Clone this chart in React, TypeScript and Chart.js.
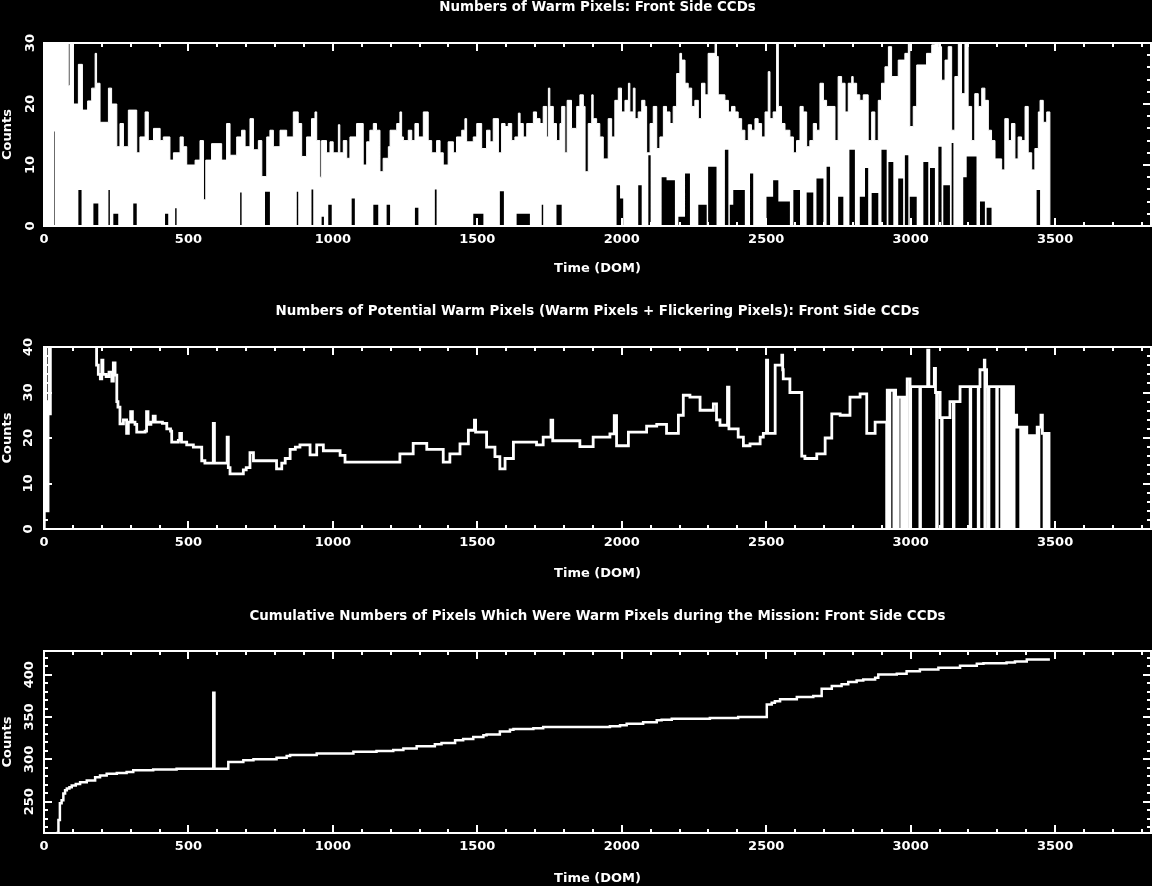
import React, { useEffect, useRef } from 'react';
import { Chart, registerables } from 'chart.js';

Chart.register(...registerables);

const FONT_FAMILY = '"DejaVu Sans", "Liberation Sans", sans-serif';
const X_MAX = 3832;
const X_TICKS = [0, 500, 1000, 1500, 2000, 2500, 3000, 3500];
const Y_TICKS_WARM = [0, 10, 20, 30];
const Y_TICKS_POT = [0, 10, 20, 30, 40];
const Y_TICKS_CUM = [250, 300, 350, 400];

const TITLE_WARM = 'Numbers of Warm Pixels: Front Side CCDs';
const TITLE_POT = 'Numbers of Potential Warm Pixels (Warm Pixels + Flickering Pixels): Front Side CCDs';
const TITLE_CUM = 'Cumulative Numbers of Pixels Which Were Warm Pixels during the Mission: Front Side CCDs';

// Panel 1: upper envelope of daily warm pixel counts [DOM, count]
const WARM_MAX: [number, number][] = [
  [0, 30], [84, 23], [90, 30], [102, 20], [119, 26.5], [133, 19], [151, 20.5], [165, 22.6], [177, 28.3], [182, 23.4],
  [194, 17], [223, 22.6], [234, 20], [252, 13], [263, 16.8], [275, 13], [292, 19], [321, 12], [332, 14.6], [350, 18.7],
  [361, 14], [379, 16], [402, 14], [413, 14.6], [436, 10.8], [448, 12], [471, 14.6], [482, 13], [494, 10], [523, 10.8],
  [540, 14], [552, 4.3], [560, 10.8], [580, 13.5], [615, 10.8], [632, 16.8], [644, 11.6], [667, 14.6], [684, 15.7], [696, 13],
  [713, 17.6], [725, 12.5], [742, 14], [754, 8.1], [771, 14.6], [782, 15.7], [794, 13], [817, 15.7], [840, 14.6], [863, 18.7],
  [880, 16.8], [892, 11.4], [909, 14.6], [926, 17.6], [938, 18.7], [944, 14], [955, 8], [961, 14], [978, 12], [990, 13.8],
  [1001, 12], [1019, 16.6], [1024, 12], [1036, 14], [1048, 11.1], [1059, 14.6], [1082, 16.8], [1105, 10], [1117, 13.8], [1128, 15.7],
  [1140, 16.8], [1151, 15.7], [1163, 8.9], [1174, 11.1], [1192, 13], [1198, 15.7], [1221, 16.8], [1232, 18.7], [1238, 14.6], [1244, 14],
  [1261, 15.7], [1273, 14], [1284, 16.8], [1296, 14.6], [1313, 18.7], [1330, 14], [1342, 12], [1359, 14], [1371, 12], [1382, 10],
  [1399, 13.8], [1417, 12], [1428, 14.6], [1446, 15.7], [1457, 17.6], [1463, 13.8], [1486, 14.6], [1498, 16.8], [1515, 12.7], [1532, 15.7],
  [1544, 13.8], [1555, 17.6], [1573, 12], [1584, 16.8], [1596, 16.3], [1607, 16.8], [1619, 14], [1630, 14.6], [1642, 18.5], [1648, 16.8],
  [1659, 14.6], [1671, 16.8], [1694, 18.7], [1705, 17.6], [1717, 16.8], [1728, 19.6], [1740, 14.6], [1746, 22.6], [1751, 19.6], [1763, 16.8],
  [1774, 14], [1786, 16.8], [1792, 19.6], [1803, 12], [1811, 20.6], [1826, 16], [1844, 19.6], [1855, 21.5], [1867, 19.6], [1873, 8.9],
  [1884, 16.8], [1896, 21.5], [1901, 17.6], [1913, 16.8], [1924, 14.6], [1936, 11], [1953, 17.6], [1965, 14.6], [1976, 20.6], [1988, 22.6],
  [1999, 18.7], [2011, 20.6], [2023, 23.4], [2028, 18.7], [2040, 22.6], [2046, 17.6], [2057, 18.7], [2069, 20.6], [2080, 19.6], [2086, 12],
  [2098, 16.8], [2109, 19.6], [2121, 12.7], [2132, 14.6], [2144, 19.6], [2155, 18.7], [2167, 16.8], [2178, 19.6], [2190, 25], [2201, 28.3],
  [2207, 27.2], [2219, 23.4], [2230, 22.6], [2242, 19.6], [2253, 20.6], [2265, 17.6], [2276, 23.4], [2288, 21.5], [2299, 28.3], [2323, 30],
  [2328, 27.8], [2334, 21.5], [2357, 20.6], [2369, 18.7], [2380, 19.6], [2392, 18.7], [2403, 17.6], [2415, 15.7], [2426, 14], [2438, 16.6],
  [2449, 15.7], [2461, 17.6], [2472, 16.8], [2484, 14.6], [2496, 18.7], [2507, 25.3], [2513, 17.6], [2524, 18.7], [2536, 30], [2542, 19.6],
  [2553, 16.8], [2565, 15.7], [2582, 14.6], [2594, 12], [2605, 14], [2617, 19.6], [2628, 18.7], [2640, 13], [2651, 14], [2663, 16.8],
  [2674, 15.7], [2686, 23.4], [2698, 20.6], [2709, 19.6], [2738, 14], [2749, 24.5], [2761, 23.4], [2773, 18.7], [2784, 23.4], [2796, 24.5],
  [2801, 23.4], [2813, 21.5], [2824, 20.6], [2836, 21.5], [2853, 14], [2865, 18.7], [2876, 14], [2888, 20.6], [2899, 23.4], [2911, 26.1],
  [2923, 29.4], [2934, 24.5], [2957, 27.2], [2980, 28.3], [2992, 30], [2997, 16.3], [3009, 19.6], [3021, 26.4], [3055, 28.3], [3073, 29.7],
  [3084, 30], [3096, 29.4], [3107, 23.9], [3119, 27.2], [3130, 29.4], [3142, 15.7], [3153, 24.5], [3165, 30], [3176, 21.7], [3188, 30],
  [3199, 19.6], [3211, 14], [3222, 21.7], [3234, 19.6], [3246, 22.6], [3257, 20.6], [3269, 15.7], [3280, 14], [3292, 11], [3315, 9.2],
  [3326, 17.6], [3338, 14], [3349, 16.8], [3361, 11], [3372, 14.6], [3384, 14], [3396, 19.6], [3407, 12], [3419, 9.2], [3430, 12.7],
  [3442, 18.7], [3448, 20.6], [3459, 17], [3471, 18.7], [3482, 0],
];

// Panel 1: lower envelope of daily warm pixel counts [DOM, count]
const WARM_MIN: [number, number][] = [
  [0, 0], [35, 15.5], [37, 0], [119, 5.9], [130, 0], [171, 3.7], [188, 0], [223, 5.9], [228, 0], [240, 2], [257, 0],
  [309, 3.7], [321, 0], [419, 2], [430, 0], [454, 2.9], [459, 0], [679, 5.5], [684, 0], [765, 5.6], [782, 0], [875, 5.6], [880, 0],
  [926, 6], [932, 0], [961, 1.5], [969, 0], [984, 3.5], [996, 0], [1065, 4.5], [1076, 0], [1140, 3.5], [1157, 0], [1186, 3.5], [1198, 0],
  [1284, 3], [1296, 0], [1353, 6], [1359, 0], [1486, 2], [1521, 0], [1578, 5.7], [1592, 0], [1636, 2], [1682, 0], [1723, 3.5], [1728, 0],
  [1774, 3.5], [1792, 0], [1982, 6.7], [1994, 4.5], [2005, 0], [2057, 6.7], [2069, 0], [2092, 11.6], [2100, 0], [2138, 8], [2155, 7.5],
  [2184, 0], [2196, 1.5], [2219, 8.6], [2236, 0], [2265, 3.5], [2294, 0], [2299, 9.7], [2328, 0], [2357, 12.5], [2369, 0], [2374, 3.5],
  [2386, 5.9], [2426, 0], [2444, 8.6], [2455, 0], [2501, 4.8], [2524, 7.5], [2542, 4], [2582, 0], [2594, 5.9], [2617, 0], [2640, 5.5],
  [2663, 0], [2674, 7.8], [2698, 0], [2709, 9.7], [2721, 0], [2749, 4.8], [2767, 0], [2788, 12.5], [2807, 0], [2824, 4.8], [2842, 9.5],
  [2853, 0], [2865, 5.4], [2888, 0], [2899, 12.5], [2917, 0], [2923, 10.5], [2940, 0], [2957, 7.8], [2974, 0], [2980, 11.6], [2992, 0],
  [2997, 4.8], [3021, 0], [3044, 10.5], [3061, 0], [3067, 9.5], [3084, 0], [3096, 13], [3107, 0], [3113, 6.7], [3136, 0], [3142, 13.6],
  [3148, 0], [3182, 8], [3194, 11.4], [3228, 0], [3240, 4], [3257, 0], [3263, 3], [3280, 0], [3436, 5.9], [3448, 0], [3482, 0],
];

// Panel 2: potential warm pixels [DOM, count]; null = no data
const POTENTIAL: [number, number | null][] = [
  [0, 0], [1, 40], [6, 28], [10, 4], [14, 27], [18, 40], [22, 25], [25, null],
  [179, 42], [182, 36], [188, 34], [195, 33], [200, 37.1], [204, 34], [215, 33.5], [225, 34.5], [235, 32.5], [240, 36.5],
  [246, 33.8], [252, 28], [256, 26.8], [263, 23.1], [275, 24], [286, 21], [292, 23.5], [300, 25.8], [306, 23.5], [315, 23],
  [321, 21.3], [350, 21.5], [355, 25.8], [360, 23], [370, 23.5], [378, 24.8], [385, 23.5], [410, 23.2], [425, 22], [438, 21.5],
  [442, 19.1], [465, 19.5], [470, 21], [476, 19.1], [494, 18.5], [517, 18], [546, 15], [557, 14.5], [586, 23.2], [590, 14.5],
  [634, 20.2], [638, 13.5], [644, 12.1], [690, 13], [700, 13.5], [713, 16.8], [725, 15], [805, 13.2], [823, 14.5], [835, 15.5],
  [852, 17.5], [870, 18], [886, 18.5], [921, 16.3], [944, 18.5], [967, 17.2], [1025, 16.2], [1042, 14.7], [1232, 16.5], [1278, 18.8],
  [1325, 17.5], [1382, 14.7], [1405, 16.5], [1440, 18.7], [1469, 21.7], [1490, 23.9], [1494, 21.3], [1532, 18], [1561, 15.9], [1578, 13.2],
  [1596, 15.5], [1625, 19.1], [1705, 18.5], [1728, 20.2], [1755, 23.9], [1761, 19.4], [1855, 18.1], [1901, 20.2], [1959, 20.9], [1974, 24.9],
  [1982, 18.3], [2023, 21.3], [2086, 22.6], [2121, 23], [2155, 21], [2196, 25], [2213, 29.4], [2236, 29], [2271, 26.1], [2317, 27.5],
  [2328, 24], [2340, 22.8], [2366, 31.2], [2371, 22], [2403, 20.2], [2421, 18.3], [2444, 18.7], [2479, 20.2], [2490, 21], [2501, 37.1],
  [2505, 21], [2531, 36], [2554, 38.2], [2557, 35], [2559, 33], [2582, 30], [2623, 16], [2634, 15.5], [2675, 16.5], [2704, 20],
  [2727, 25.3], [2756, 25], [2790, 29], [2825, 29.7], [2848, 21], [2877, 23.5], [2917, 0], [2919, 30.5], [2926, 0], [2928, 30.5],
  [2942, 0], [2944, 30.5], [2948, 0], [2950, 29], [2955, 0], [2957, 29], [2969, 0], [2971, 29], [2977, 0], [2979, 29],
  [2986, 0], [2988, 33], [2998, 0], [3000, 31.3], [3032, 0], [3034, 31.3], [3059, 39.3], [3063, 31.3], [3082, 35.3], [3086, 30],
  [3090, 0], [3092, 30], [3102, 24.5], [3107, 0], [3109, 24.5], [3136, 28], [3148, 0], [3150, 28], [3171, 31.3], [3206, 0],
  [3208, 31.3], [3234, 0], [3236, 31.3], [3240, 35], [3255, 37.1], [3257, 0], [3259, 35], [3263, 31.3], [3269, 0], [3271, 31.3],
  [3298, 0], [3300, 31.3], [3315, 0], [3317, 31.3], [3321, 0], [3323, 31.3], [3327, 0], [3329, 31.3], [3338, 0], [3340, 31.3],
  [3344, 0], [3346, 31.3], [3350, 0], [3352, 31.3], [3356, 0], [3358, 25], [3367, 22.4], [3381, 0], [3383, 22.4], [3390, 0],
  [3392, 22.4], [3396, 0], [3398, 22.4], [3402, 0], [3404, 20.5], [3408, 0], [3410, 20.5], [3413, 0], [3415, 20.5], [3419, 0],
  [3421, 20.5], [3425, 0], [3427, 20.5], [3430, 0], [3432, 20.5], [3436, 0], [3438, 22.4], [3442, 0], [3444, 22.4], [3451, 25],
  [3456, 21], [3462, 0], [3464, 21], [3473, 0], [3475, 21], [3479, 0],
];

// Panel 3: cumulative number of warm pixels [DOM, count]
const CUMULATIVE: [number, number][] = [
  [44, 200], [46, 213], [50, 228.5], [55, 248], [61, 251.6], [67, 259.6], [73, 263.5], [79, 265.5], [88, 267], [96, 269],
  [110, 271], [125, 273], [148, 275], [177, 279], [194, 281], [217, 283], [252, 284], [286, 285], [309, 287], [378, 288],
  [459, 289], [586, 378.7], [590, 289], [638, 297], [690, 299], [725, 300], [805, 302], [840, 304], [852, 305], [944, 307],
  [1071, 309], [1151, 310], [1209, 311], [1244, 312.7], [1290, 315.5], [1353, 317.7], [1376, 319.4], [1423, 322.5], [1451, 324], [1486, 326.4],
  [1521, 328.4], [1532, 329.5], [1578, 333], [1613, 335], [1625, 335.8], [1694, 336.6], [1728, 338.2], [1959, 339], [1994, 340.2], [2017, 342.2],
  [2074, 343.8], [2121, 346.1], [2138, 346.9], [2173, 348.1], [2305, 348.9], [2403, 350], [2502, 364.9], [2519, 367], [2530, 368.5], [2548, 370.9],
  [2606, 373.6], [2663, 374.8], [2692, 383.4], [2727, 386.6], [2761, 388.6], [2784, 391.3], [2813, 393.2], [2836, 394.4], [2877, 396.3], [2888, 400.3],
  [2952, 401], [2986, 404.2], [3032, 406.1], [3096, 408.1], [3171, 410.5], [3229, 412.8], [3252, 413.6], [3332, 414.4], [3361, 415.6], [3402, 418],
  [3482, 418],
];

const toXY = (arr: [number, number | null][]) => arr.map(([x, y]) => ({ x, y }));

const framePlugin = {
  id: 'frame',
  afterDatasetsDraw(chart: any, _args: any, o: any) {
    const { ctx, chartArea: a, scales } = chart;
    const xs = scales.x;
    const ys = scales.y;
    ctx.save();
    ctx.strokeStyle = '#ffffff';
    ctx.lineWidth = 2;
    ctx.beginPath();
    for (let v = 0; v <= xs.max; v += o.xMinor) {
      const px = Math.round(xs.getPixelForValue(v));
      const len = v % o.xMajor === 0 ? 8 : 4;
      ctx.moveTo(px, a.bottom);
      ctx.lineTo(px, a.bottom - len);
      ctx.moveTo(px, a.top);
      ctx.lineTo(px, a.top + len);
    }
    for (let v = Math.ceil(ys.min / o.yMinor) * o.yMinor; v <= ys.max; v += o.yMinor) {
      const py = Math.round(ys.getPixelForValue(v));
      const len = v % o.yMajor === 0 ? 8 : 4;
      ctx.moveTo(a.left, py);
      ctx.lineTo(a.left + len, py);
      ctx.moveTo(a.right, py);
      ctx.lineTo(a.right - len, py);
    }
    ctx.stroke();
    ctx.strokeRect(a.left, a.top, a.right - a.left, a.bottom - a.top);
    ctx.restore();
  },
};

const titlePlugin = {
  id: 'panelTitle',
  afterDraw(chart: any, _args: any, o: any) {
    const { ctx, chartArea: a } = chart;
    ctx.save();
    ctx.fillStyle = '#ffffff';
    ctx.font = `bold 13.4px ${FONT_FAMILY}`;
    ctx.textAlign = 'center';
    ctx.textBaseline = 'middle';
    ctx.fillText(o.text, (a.left + a.right) / 2, o.y);
    ctx.restore();
  },
};

type Spec = {
  top: number;
  height: number;
  areaTop: number;
  areaBottom: number;
  title: string;
  titleY: number;
  yMin: number;
  yMax: number;
  yTicks: number[];
  yMinor: number;
  yMajor: number;
  yTickPad: number;
  xTitlePad: number;
  datasets: any[];
};

function buildConfig(s: Spec): any {
  const font = { family: FONT_FAMILY, size: 13, weight: 'bold' as const };
  return {
    type: 'line',
    data: { datasets: s.datasets },
    options: {
      animation: false,
      responsive: false,
      devicePixelRatio: 1,
      events: [],
      layout: { padding: { top: s.areaTop, left: 0, right: 1, bottom: 0 } },
      plugins: {
        legend: { display: false },
        tooltip: { enabled: false },
        title: { display: false },
        panelTitle: { text: s.title, y: s.titleY },
        frame: { xMinor: 100, xMajor: 500, yMinor: s.yMinor, yMajor: s.yMajor },
      },
      scales: {
        x: {
          type: 'linear',
          min: 0,
          max: X_MAX,
          grid: { display: false, drawTicks: false },
          border: { display: false },
          afterBuildTicks: (sc: any) => {
            sc.ticks = X_TICKS.map((v) => ({ value: v }));
          },
          afterFit: (sc: any) => {
            sc.height = s.height - s.areaBottom;
          },
          ticks: {
            color: '#ffffff',
            font,
            padding: 6,
            autoSkip: false,
            maxRotation: 0,
            minRotation: 0,
            callback: (v: any) => String(v),
          },
          title: {
            display: true,
            text: 'Time (DOM)',
            color: '#ffffff',
            font,
            padding: { top: 0, bottom: s.xTitlePad },
          },
        },
        y: {
          type: 'linear',
          min: s.yMin,
          max: s.yMax,
          grid: { display: false, drawTicks: false },
          border: { display: false },
          afterBuildTicks: (sc: any) => {
            sc.ticks = s.yTicks.map((v) => ({ value: v }));
          },
          afterFit: (sc: any) => {
            sc.width = 44;
          },
          ticks: {
            color: '#ffffff',
            font,
            padding: s.yTickPad,
            minRotation: 90,
            maxRotation: 90,
            crossAlign: 'center',
            autoSkip: false,
            callback: (v: any) => String(v),
          },
          title: {
            display: true,
            text: 'Counts',
            color: '#ffffff',
            font,
            padding: { top: 0, bottom: 0 },
          },
        },
      },
    },
    plugins: [framePlugin, titlePlugin],
  };
}

function Panel({ spec }: { spec: Spec }) {
  const ref = useRef<HTMLCanvasElement>(null);
  useEffect(() => {
    if (!ref.current) return;
    const chart = new Chart(ref.current, buildConfig(spec));
    return () => chart.destroy();
  }, []);
  return (
    <canvas
      ref={ref}
      width={1152}
      height={spec.height}
      style={{ position: 'absolute', left: 0, top: spec.top, width: 1152, height: spec.height, display: 'block' }}
    />
  );
}

const warmSpec: Spec = {
  top: 0,
  height: 295,
  areaTop: 43,
  areaBottom: 226,
  title: TITLE_WARM,
  titleY: 8,
  yMin: 0,
  yMax: 30,
  yTicks: Y_TICKS_WARM,
  yMinor: 2,
  yMajor: 10,
  yTickPad: 4,
  xTitlePad: 19,
  datasets: [
    {
      data: toXY(WARM_MIN),
      stepped: true,
      borderColor: 'rgba(0,0,0,0)',
      borderWidth: 0,
      backgroundColor: '#000000',
      fill: 'origin',
      pointRadius: 0,
      order: 0,
    },
    {
      data: toXY(WARM_MAX),
      stepped: true,
      borderColor: '#ffffff',
      borderWidth: 1,
      backgroundColor: '#ffffff',
      fill: 'origin',
      pointRadius: 0,
      order: 1,
    },
  ],
};

const potSpec: Spec = {
  top: 295,
  height: 305,
  areaTop: 52,
  areaBottom: 234,
  title: TITLE_POT,
  titleY: 17,
  yMin: 0,
  yMax: 40,
  yTicks: Y_TICKS_POT,
  yMinor: 2,
  yMajor: 10,
  yTickPad: 6,
  xTitlePad: 19,
  datasets: [
    {
      data: toXY(POTENTIAL),
      stepped: true,
      borderColor: '#ffffff',
      borderWidth: 2.8,
      fill: false,
      pointRadius: 0,
      spanGaps: false,
    },
  ],
};

const cumSpec: Spec = {
  top: 600,
  height: 286,
  areaTop: 51,
  areaBottom: 233,
  title: TITLE_CUM,
  titleY: 16.5,
  yMin: 213,
  yMax: 428,
  yTicks: Y_TICKS_CUM,
  yMinor: 10,
  yMajor: 50,
  yTickPad: 1,
  xTitlePad: 0,
  datasets: [
    {
      data: toXY(CUMULATIVE),
      stepped: true,
      borderColor: '#ffffff',
      borderWidth: 2.5,
      fill: false,
      pointRadius: 0,
    },
  ],
};

export default function App() {
  return (
    <div
      style={{
        position: 'fixed',
        left: 0,
        top: 0,
        width: 1152,
        height: 886,
        background: '#000000',
        overflow: 'hidden',
      }}
    >
      <Panel spec={warmSpec} />
      <Panel spec={potSpec} />
      <Panel spec={cumSpec} />
    </div>
  );
}
